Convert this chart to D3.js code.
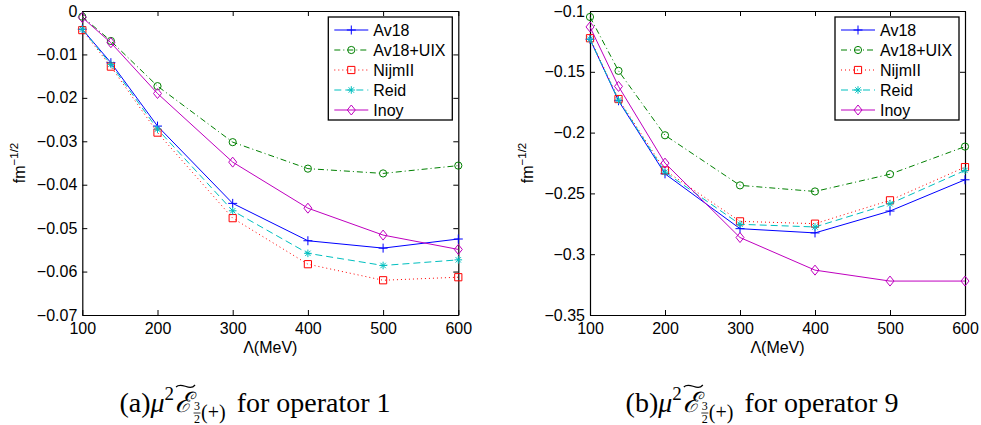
<!DOCTYPE html>
<html><head><meta charset="utf-8">
<script src="https://cdn.jsdelivr.net/npm/d3@7"></script>
<style>body{margin:0;background:#fff} svg{display:block}</style>
</head><body><svg id="c" width="981" height="425"></svg>
<script>
// ---------------- data ----------------
const lambdas = [100, 138, 200, 300, 400, 500, 600];
const seriesNames = ["Av18", "Av18+UIX", "NijmII", "Reid", "Inoy"];

// (a) operator 1
const op1_Av18    = [-0.0042, -0.0119, -0.0265, -0.0443, -0.0529, -0.0546, -0.0525];
const op1_Av18UIX = [-0.0013, -0.0069, -0.0173, -0.0302, -0.0363, -0.0374, -0.0356];
const op1_NijmII  = [-0.0044, -0.0128, -0.0280, -0.0477, -0.0583, -0.0620, -0.0613];
const op1_Reid    = [-0.0042, -0.0123, -0.0272, -0.0460, -0.0558, -0.0586, -0.0573];
const op1_Inoy    = [-0.0015, -0.0073, -0.0190, -0.0348, -0.0454, -0.0516, -0.0549];

// (b) operator 9
const op9_Av18    = [-0.1232, -0.1738, -0.2339, -0.2790, -0.2825, -0.2645, -0.2388];
const op9_Av18UIX = [-0.1049, -0.1492, -0.2022, -0.2434, -0.2484, -0.2342, -0.2115];
const op9_NijmII  = [-0.1224, -0.1724, -0.2311, -0.2730, -0.2749, -0.2557, -0.2284];
const op9_Reid    = [-0.1232, -0.1732, -0.2325, -0.2754, -0.2776, -0.2585, -0.2311];
const op9_Inoy    = [-0.1131, -0.1620, -0.2251, -0.2863, -0.3131, -0.3221, -0.3221];

const xTicks  = [100, 200, 300, 400, 500, 600];
const yTicksA = [0, -0.01, -0.02, -0.03, -0.04, -0.05, -0.06, -0.07];
const yTicksB = [-0.1, -0.15, -0.2, -0.25, -0.3, -0.35];
const xLabel = "Λ(MeV)";
const captionTags = ["(a)", "(b)"];
const captionOps = ["for operator 1", "for operator 9"];

// ---------------- styles ----------------
const colors  = ["#0000ff", "#008000", "#ff0000", "#00bfbf", "#bf00bf"];
const dashes  = [null, "6,3,1,3", "1,3", "7,4", null];
const markers = ["plus", "circle", "square", "star", "diamond"];
const FONT = "'Liberation Sans', Arial, Helvetica, sans-serif";
const SERIF = "'Liberation Serif', 'Times New Roman', serif";

function markerPath(type) {
  switch (type) {
    case "plus": return "M-4.5,0H4.5M0,-4.5V4.5";
    case "circle": return d3.arc()({innerRadius:0, outerRadius:3.6, startAngle:0, endAngle:2*Math.PI});
    case "square": return "M-3.6,-3.6H3.6V3.6H-3.6Z";
    case "star": return "M-3.8,0H3.8M0,-3.8V3.8M-2.7,-2.7L2.7,2.7M-2.7,2.7L2.7,-2.7";
    case "diamond": return "M0,-5L4,0L0,5L-4,0Z";
  }
}

const svg = d3.select("#c");
svg.append("rect").attr("width", 981).attr("height", 425).attr("fill", "#fff");

const panels = [
  { box: [82.3, 458.3, 11, 315], dom: [-0.07, 0], ticks: yTicksA,
    series: [op1_Av18, op1_Av18UIX, op1_NijmII, op1_Reid, op1_Inoy],
    fmt: v => v === 0 ? "0" : "\u2212" + d3.format(".2f")(-v), capX: 255 },
  { box: [590, 965, 11, 315], dom: [-0.35, -0.1], ticks: yTicksB,
    series: [op9_Av18, op9_Av18UIX, op9_NijmII, op9_Reid, op9_Inoy],
    fmt: v => "\u2212" + d3.format("~g")(-v), capX: 762 }
];

panels.forEach((p, pi) => {
  const [x0, x1, y0, y1] = p.box;
  const x = d3.scaleLinear().domain([100, 600]).range([x0, x1]);
  const y = d3.scaleLinear().domain(p.dom).range([y1, y0]);
  const g = svg.append("g");

  // axes (MATLAB-style box with inward ticks)
  const styleAxis = sel => {
    sel.selectAll("path.domain").attr("stroke", "#000").attr("stroke-width", 1.2);
    sel.selectAll(".tick line").attr("stroke", "#000").attr("stroke-width", 1);
    sel.selectAll("text").attr("font-family", FONT).attr("font-size", 16).attr("fill", "#000");
  };
  g.append("g").attr("transform", `translate(0,${y1})`)
    .call(d3.axisBottom(x).tickValues(xTicks).tickSize(-5).tickSizeOuter(0).tickPadding(8).tickFormat(d3.format("d")))
    .call(styleAxis);
  g.append("g").attr("transform", `translate(0,${y0})`)
    .call(d3.axisTop(x).tickValues(xTicks).tickSize(-5).tickSizeOuter(0).tickFormat(""))
    .call(styleAxis);
  g.append("g").attr("transform", `translate(${x0},0)`)
    .call(d3.axisLeft(y).tickValues(p.ticks).tickSize(-5).tickSizeOuter(0).tickPadding(5).tickFormat(p.fmt))
    .call(styleAxis);
  g.append("g").attr("transform", `translate(${x1},0)`)
    .call(d3.axisRight(y).tickValues(p.ticks).tickSize(-5).tickSizeOuter(0).tickFormat(""))
    .call(styleAxis);
  g.selectAll(".domain").attr("fill", "none");

  // axis labels
  g.append("text").attr("x", (x0 + x1) / 2).attr("y", 353).attr("text-anchor", "middle")
    .attr("font-family", FONT).attr("font-size", 16).text(xLabel);
  const yl = g.append("text").attr("transform", `translate(${x0 - 57},${(y0 + y1) / 2}) rotate(-90)`)
    .attr("text-anchor", "middle").attr("font-family", FONT).attr("font-size", 16);
  yl.append("tspan").text("fm");
  yl.append("tspan").attr("dy", -7).attr("font-size", 11.5).text("\u22121/2");

  // series
  const line = d3.line().x((d, i) => x(lambdas[i])).y(d => y(d));
  p.series.forEach((vals, si) => {
    const sg = g.append("g");
    sg.append("path").attr("d", line(vals)).attr("fill", "none")
      .attr("stroke", colors[si]).attr("stroke-width", 1)
      .attr("stroke-dasharray", dashes[si]);
    sg.selectAll("path.m").data(vals).enter().append("path").attr("class", "m")
      .attr("transform", (d, i) => `translate(${x(lambdas[i])},${y(d)})`)
      .attr("d", markerPath(markers[si])).attr("fill", "none")
      .attr("stroke", colors[si]).attr("stroke-width", 1);
  });

  // legend
  const lw = 124, lh = 103;
  const lx = x1 - 6 - lw, ly = y0 + 6;
  const lg = g.append("g");
  lg.append("rect").attr("x", lx).attr("y", ly).attr("width", lw).attr("height", lh)
    .attr("fill", "#fff").attr("stroke", "#000").attr("stroke-width", 1.3);
  seriesNames.forEach((name, si) => {
    const ry = ly + 13 + si * 20;
    lg.append("line").attr("x1", lx + 6).attr("x2", lx + 40).attr("y1", ry).attr("y2", ry)
      .attr("stroke", colors[si]).attr("stroke-width", 1).attr("stroke-dasharray", dashes[si]);
    lg.append("path").attr("transform", `translate(${lx + 23},${ry})`).attr("d", markerPath(markers[si]))
      .attr("fill", "none").attr("stroke", colors[si]).attr("stroke-width", 1);
    lg.append("text").attr("x", lx + 45).attr("y", ry + 6).attr("font-family", FONT)
      .attr("font-size", 16).text(name);
  });

  // caption (built piece by piece)
  const cg = svg.append("g");
  const base = 412;
  let cx = 0;
  const piece = (txt, size, dy, opts = {}) => {
    const t = cg.append("text").attr("x", cx).attr("y", base + dy)
      .attr("font-family", opts.family || SERIF).attr("font-size", size)
      .attr("font-style", opts.italic ? "italic" : "normal").text(txt);
    const w = t.node().getComputedTextLength();
    cx += w;
    return { t, w };
  };
  piece(captionTags[pi], 28, 0);
  piece("\u03bc", 28, 0, { italic: true });
  piece("2", 19, -12);
  cx += 1;
  const eStart = cx;
  const E = piece("\u2130", 28, 0, { italic: true });
  // wide tilde over the script E
  const tx0 = eStart + 1, tx1 = eStart + E.w + 3, ty = base - 27;
  cg.append("path")
    .attr("d", `M${tx0},${ty + 2} C${tx0 + (tx1 - tx0) * 0.3},${ty - 4} ${tx0 + (tx1 - tx0) * 0.7},${ty + 7} ${tx1},${ty}`)
    .attr("fill", "none").attr("stroke", "#000").attr("stroke-width", 1.2);
  cx += 2;
  const fx = cx;
  const n3 = cg.append("text").attr("x", fx).attr("y", base - 2).attr("font-family", SERIF)
    .attr("font-size", 12).text("3");
  const fw = n3.node().getComputedTextLength();
  cg.append("line").attr("x1", fx - 0.5).attr("x2", fx + fw + 0.5).attr("y1", base + 1).attr("y2", base + 1)
    .attr("stroke", "#000").attr("stroke-width", 0.8);
  cg.append("text").attr("x", fx).attr("y", base + 11).attr("font-family", SERIF)
    .attr("font-size", 12).text("2");
  cx += fw + 1;
  piece("(+)", 20, 7);
  cx += 11;
  piece(captionOps[pi], 28, 0);
  const total = cx;
  cg.attr("transform", `translate(${p.capX - total / 2},0)`);
});
</script></body></html>
